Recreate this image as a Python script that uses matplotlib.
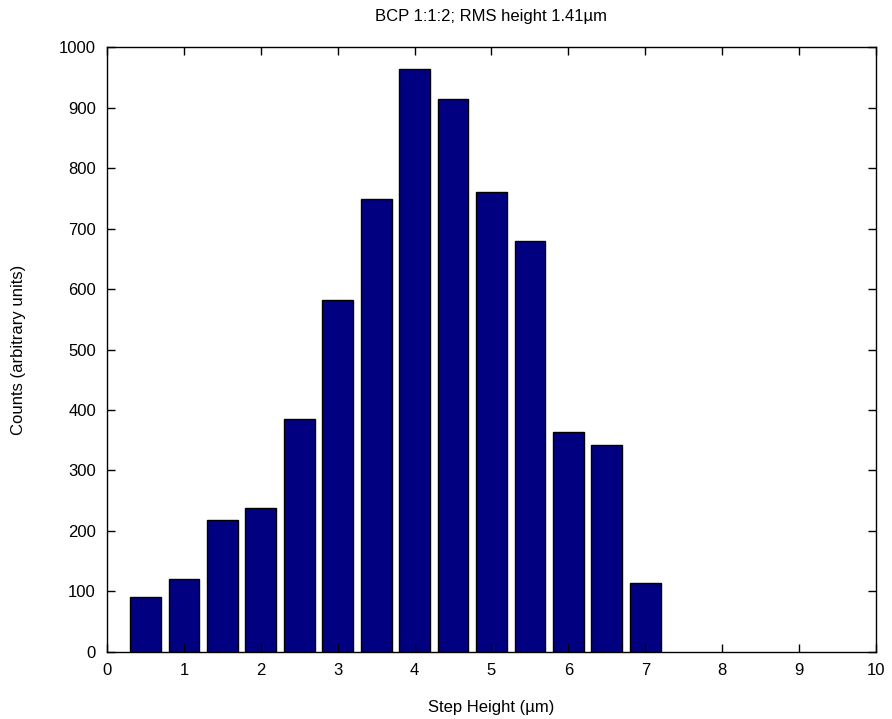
import matplotlib
matplotlib.use("Agg")
import matplotlib.pyplot as plt

plt.rcParams['font.family'] = ['Liberation Sans', 'DejaVu Sans']

step_height = [0.5, 1.0, 1.5, 2.0, 2.5, 3.0, 3.5, 4.0, 4.5, 5.0, 5.5, 6.0, 6.5, 7.0]
counts = [91, 121, 218, 238, 385, 582, 749, 963, 914, 761, 679, 364, 342, 114]
x_ticks = list(range(0, 11))
y_ticks = list(range(0, 1001, 100))

fig = plt.figure(figsize=(8.92, 7.19), dpi=100)
ax = fig.add_axes([0.12, 0.0932, 0.862, 0.8414])

ax.bar(step_height, counts, width=0.4, color="#000080", edgecolor="black", linewidth=1.0)

ax.set_xlim(0, 10)
ax.set_ylim(0, 1000)
ax.set_xticks(x_ticks)
ax.set_yticks(y_ticks)
ax.tick_params(direction="in", top=True, right=True, length=6, width=1, labelsize=12, pad=8)
for s in ax.spines.values():
    s.set_linewidth(1)

ax.set_xlabel("Step Height (\u00b5m)", fontsize=12, labelpad=16)
ax.set_ylabel("Counts (arbitrary units)", fontsize=12, labelpad=24)
ax.set_title("BCP 1:1:2; RMS height 1.41\u00b5m", fontsize=12, pad=19)

fig.savefig("out.png", dpi=100)
